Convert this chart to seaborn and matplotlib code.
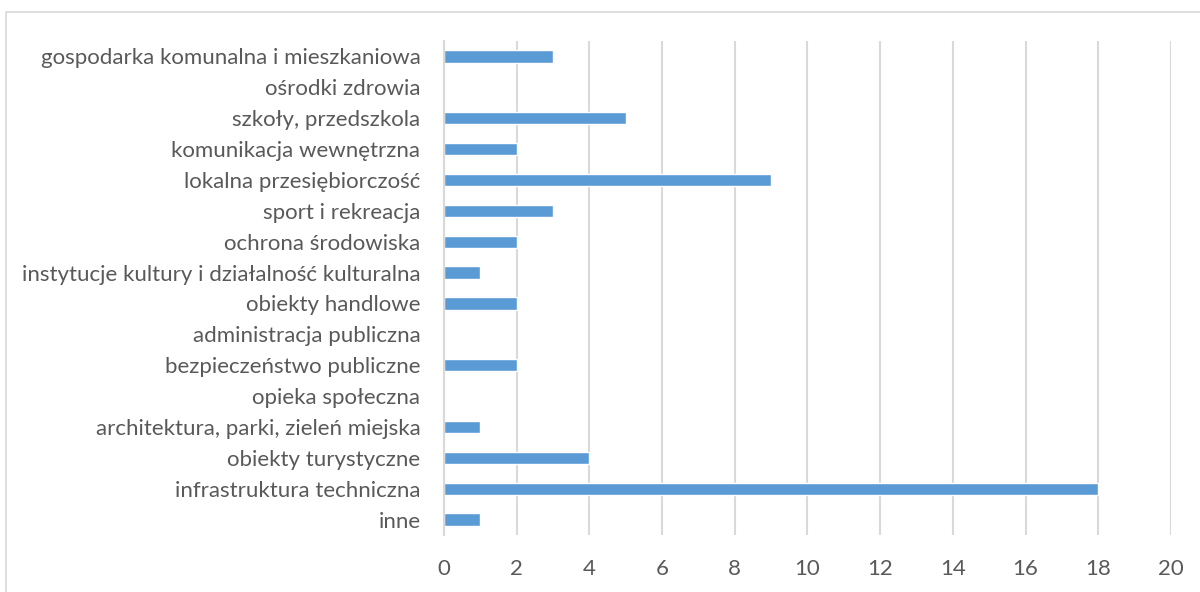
import matplotlib
matplotlib.use("Agg")
import matplotlib.pyplot as plt
import seaborn as sns
import pandas as pd
from matplotlib.patches import Rectangle

# data (top to bottom)
categories = [
    "gospodarka komunalna i mieszkaniowa",
    "ośrodki zdrowia",
    "szkoły, przedszkola",
    "komunikacja wewnętrzna",
    "lokalna przesiębiorczość",
    "sport i rekreacja",
    "ochrona środowiska",
    "instytucje kultury i działalność kulturalna",
    "obiekty handlowe",
    "administracja publiczna",
    "bezpieczeństwo publiczne",
    "opieka społeczna",
    "architektura, parki, zieleń miejska",
    "obiekty turystyczne",
    "infrastruktura techniczna",
    "inne",
]
values = [3, 0, 5, 2, 9, 3, 2, 1, 2, 0, 2, 0, 1, 4, 18, 1]
x_ticks = list(range(0, 21, 2))

df = pd.DataFrame({"kategoria": categories, "liczba": values})

sns.set_style("white")
plt.rcParams["font.family"] = ["Lato", "DejaVu Sans"]

fig = plt.figure(figsize=(12, 5.92), dpi=100)
ax = fig.add_axes([0.37, 0.0963, 0.6058, 0.8344])

sns.barplot(data=df, x="liczba", y="kategoria", order=categories,
            color="#5B9BD5", saturation=1, width=0.4, ax=ax)

ax.set_xlim(0, 20)
ax.set_xticks(x_ticks)
ax.set_ylim(len(categories) - 0.5, -0.5)
ax.set_xlabel("")
ax.set_ylabel("")
ax.grid(axis="x", color="#d9d9d9", linewidth=1.5)
ax.set_axisbelow(True)
for side in ["top", "right", "bottom"]:
    ax.spines[side].set_visible(False)
ax.spines["left"].set_color("#d9d9d9")
ax.spines["left"].set_linewidth(1.5)
ax.tick_params(axis="both", length=0, labelsize=16, labelcolor="#595959")
ax.tick_params(axis="x", pad=17)
ax.tick_params(axis="y", pad=17)

# light frame around the chart area
fig.patches.append(Rectangle((6 / 1200, -0.1), 1.2, 1.1 - 12 / 592,
                             transform=fig.transFigure, fill=False,
                             edgecolor="#d9d9d9", linewidth=1.2))

fig.savefig("out.png", dpi=100)
